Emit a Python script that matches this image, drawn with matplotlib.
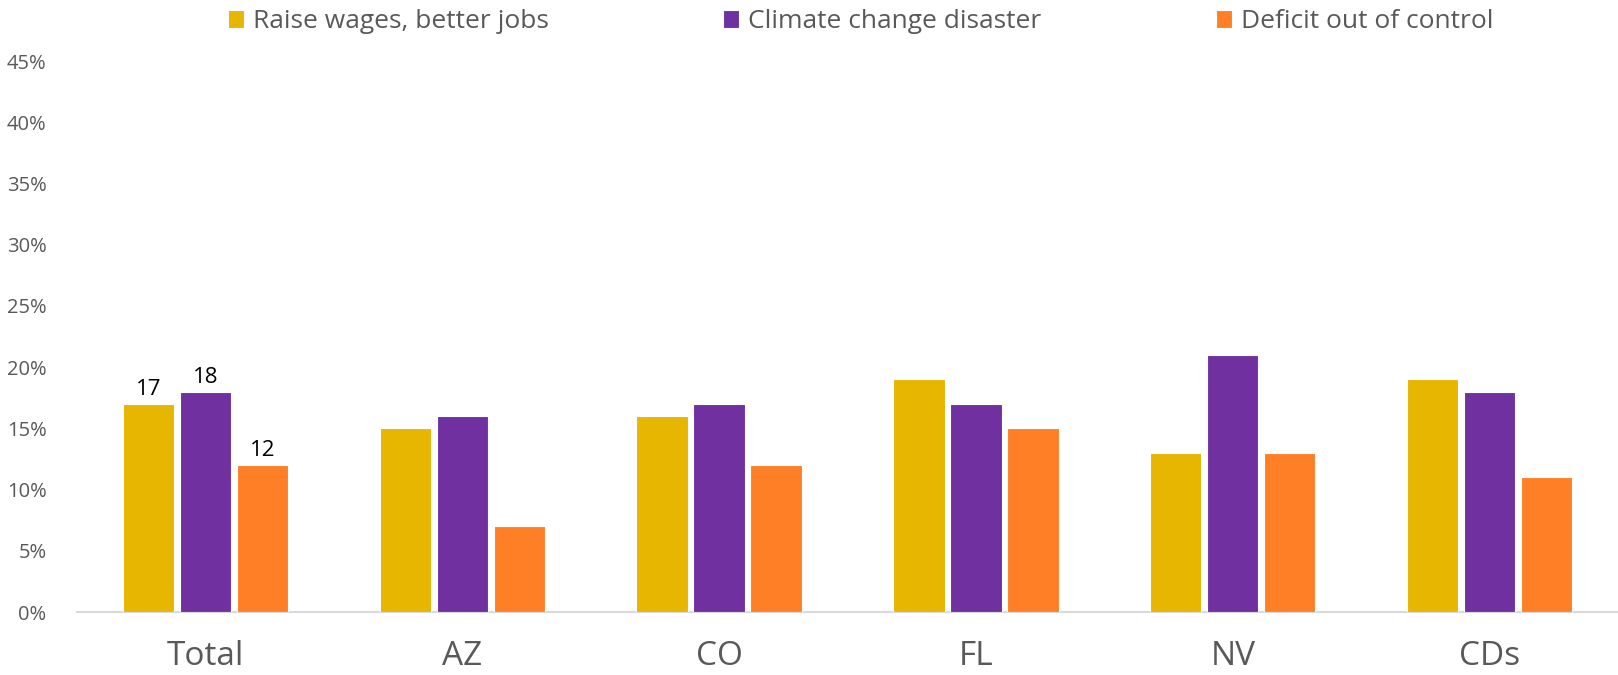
import numpy as np
import matplotlib.pyplot as plt
from matplotlib.ticker import PercentFormatter

plt.rcParams['font.family'] = ['Open Sans', 'DejaVu Sans']

groups = ['Total', 'AZ', 'CO', 'FL', 'NV', 'CDs']
series_names = ['Raise wages, better jobs', 'Climate change disaster', 'Deficit out of control']
raise_wages = [17, 15, 16, 19, 13, 19]
climate = [18, 16, 17, 17, 21, 18]
deficit = [12, 7, 12, 15, 13, 11]
colors = ['#E6B600', '#7030A0', '#FF7F27']

fig = plt.figure(figsize=(16.18, 6.75), dpi=100)
ax = fig.add_axes([0.0476, 0.0933, 0.9524, 0.8163])

x = np.arange(len(groups))
width = 0.2
step = 0.222
bars = []
for i, (vals, name, c) in enumerate(zip([raise_wages, climate, deficit], series_names, colors)):
    b = ax.bar(x + (i - 1) * step, np.array(vals) / 100, width, color=c,
               edgecolor='white', linewidth=0.8, label=name, zorder=3)
    bars.append(b)

# labels only on the Total group
for b, vals in zip(bars, [raise_wages, climate, deficit]):
    rect = b[0]
    ax.text(rect.get_x() + rect.get_width() / 2, rect.get_height() + 0.003,
            str(vals[0]), ha='center', va='bottom', fontsize=16, color='black')

ax.set_xlim(-0.5, len(groups) - 0.5)
ax.set_ylim(0, 0.45)
ax.set_yticks(np.arange(0, 0.46, 0.05))
ax.yaxis.set_major_formatter(PercentFormatter(1.0, decimals=0))
ax.set_xticks(x)
ax.set_xticklabels(groups, fontsize=24, color='#595959')
ax.tick_params(axis='y', labelsize=14.5, labelcolor='#595959', length=0, pad=22)
ax.tick_params(axis='x', length=0, pad=20)
for s in ['top', 'right', 'left']:
    ax.spines[s].set_visible(False)
ax.spines['bottom'].set_color('#D9D9D9')
ax.spines['bottom'].set_linewidth(1.5)

fig.legend(loc='center', bbox_to_anchor=(0.532, 0.968), ncol=3, frameon=False,
           fontsize=19, handlelength=0.6, handleheight=0.7, handletextpad=0.35,
           columnspacing=6.6, labelcolor='#595959')

fig.savefig('out.png', dpi=100)
